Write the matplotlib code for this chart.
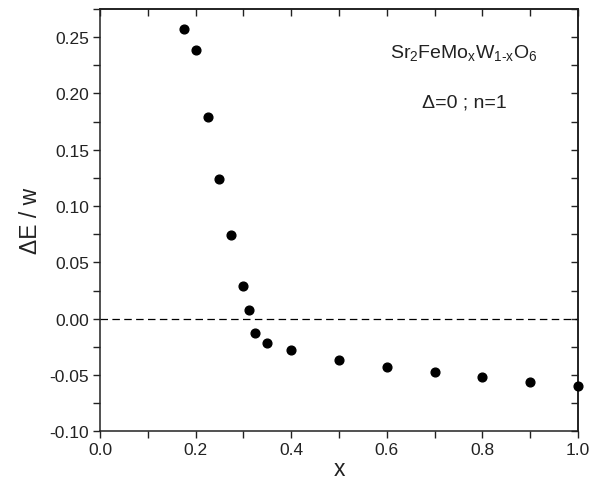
import matplotlib
matplotlib.use("Agg")
import matplotlib.pyplot as plt
from matplotlib.ticker import MultipleLocator

# data
x_vals = [0.175, 0.2, 0.225, 0.25, 0.275, 0.3, 0.3125, 0.325, 0.35, 0.4,
          0.5, 0.6, 0.7, 0.8, 0.9, 1.0]
dE_w = [0.257, 0.239, 0.179, 0.124, 0.074, 0.029, 0.0075, -0.0125, -0.0215, -0.028,
        -0.0365, -0.0425, -0.0475, -0.052, -0.056, -0.060]

x_ticks = [0.0, 0.2, 0.4, 0.6, 0.8, 1.0]
y_ticks = [-0.10, -0.05, 0.00, 0.05, 0.10, 0.15, 0.20, 0.25]

plt.rcParams["font.family"] = ["Liberation Sans", "DejaVu Sans"]
plt.rcParams["mathtext.fontset"] = "custom"
plt.rcParams["mathtext.rm"] = "Liberation Sans"
plt.rcParams["mathtext.it"] = "Liberation Sans"
plt.rcParams["axes.unicode_minus"] = False

fig = plt.figure(figsize=(6.02, 4.85), dpi=100)
ax = fig.add_axes([0.1661, 0.1086, 0.794, 0.8707])

ax.axhline(0, color="black", lw=0.9, ls=(0, (6, 3.5)), zorder=1)
ax.plot(x_vals, dE_w, "o", color="black", ms=6.3, zorder=3, clip_on=False)

ax.set_xlim(0, 1.0)
ax.set_ylim(-0.10, 0.275)
ax.set_xticks(x_ticks)
ax.set_yticks(y_ticks)
ax.set_xticklabels([f"{v:.1f}" for v in x_ticks])
ax.set_yticklabels([f"{v:.2f}" for v in y_ticks])
ax.xaxis.set_minor_locator(MultipleLocator(0.1))
ax.yaxis.set_minor_locator(MultipleLocator(0.025))

ax.tick_params(which="both", direction="out", length=5, width=1.0, labelsize=12.5,
               top=False, right=False, colors="#222222", labelcolor="#222222")
ax.tick_params(which="major", pad=3)
for side in ax.spines.values():
    side.set_linewidth(1.1)
    side.set_color("#222222")

# mirrored ticks pointing inwards on top and right
ax_top = ax.secondary_xaxis("top")
ax_top.set_xticks(x_ticks)
ax_top.xaxis.set_minor_locator(MultipleLocator(0.1))
ax_top.tick_params(which="both", direction="in", length=5, width=1.0, labeltop=False,
                   colors="#222222")
ax_right = ax.secondary_yaxis("right")
ax_right.set_yticks(y_ticks)
ax_right.yaxis.set_minor_locator(MultipleLocator(0.025))
ax_right.tick_params(which="both", direction="in", length=5, width=1.0, labelright=False,
                     colors="#222222")
ax_top.spines["top"].set_linewidth(1.1)
ax_right.spines["right"].set_linewidth(1.1)

ax.set_xlabel("x", fontsize=16.5, labelpad=0, color="#222222")
ax.set_ylabel("\u0394E / w", fontsize=16.5, labelpad=5, color="#222222")

ax.text(0.7615, 0.886, r"Sr$_2$FeMo$_x$W$_{1\text{-}x}$O$_6$", transform=ax.transAxes,
        ha="center", va="baseline", fontsize=14, color="#222222")
ax.text(0.7615, 0.770, "\u0394=0 ; n=1", transform=ax.transAxes,
        ha="center", va="baseline", fontsize=14, color="#222222")

fig.savefig("out.png", dpi=100)
